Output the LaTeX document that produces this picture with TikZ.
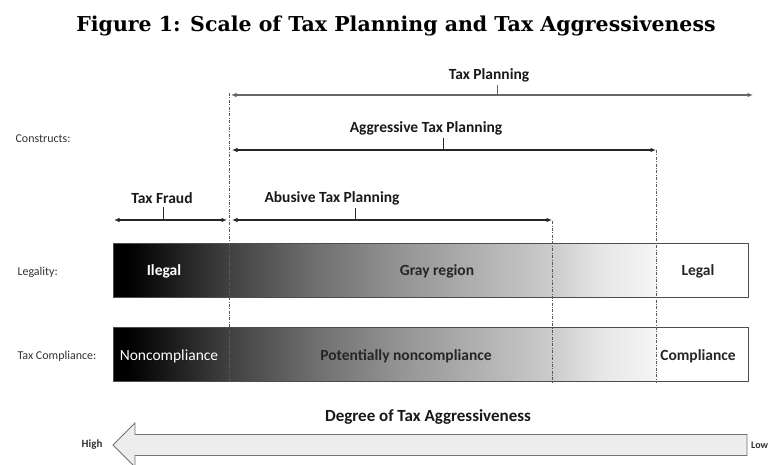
\documentclass[tikz,border=0pt]{standalone}
\usepackage{fontspec}
\setmainfont{Carlito}
\newfontfamily\titlefont{DejaVu Serif}
\usetikzlibrary{arrows.meta,calc}

% black on the left, fading out to white at the legal end
\pgfdeclarehorizontalshading{grayscale}{100bp}{color(0bp)=(black); color(26.2bp)=(black);
  color(34bp)=(black!75); color(40.7bp)=(black!57); color(47.6bp)=(black!42);
  color(59.6bp)=(black!20); color(63.3bp)=(black!10); color(67.6bp)=(black!4);
  color(68bp)=(white); color(100bp)=(white)}

\tikzset{
  span/.style={{Latex[length=5.5pt,width=4.5pt]}-{Latex[length=5.5pt,width=4.5pt]}, line width=1.1pt, draw=black!85},
  tick/.style={line width=0.9pt, draw=black!85},
  divider/.style={dash pattern=on 3pt off 1.5pt on 0.8pt off 1.5pt, line width=0.6pt, draw=black!65},
  bar/.style={draw=black!70, line width=0.8pt, minimum width=635pt, minimum height=54pt, inner sep=0pt, shading=grayscale},
  rowlabel/.style={font=\fontsize{12}{14}\selectfont, text=black!80},
  barlabel/.style={font=\fontsize{15.5}{18}\selectfont\bfseries, text=black!85},
  spanlabel/.style={font=\fontsize{15.5}{18}\selectfont\bfseries, text=black!90},
}

\begin{document}
\begin{tikzpicture}[x=1pt,y=-1pt]
\useasboundingbox[fill=white] (0,0) rectangle (770,465);

\node[font=\titlefont\fontsize{20.5}{24}\selectfont\bfseries] (title) at (396,26) {Figure 1: Scale of Tax Planning and Tax Aggressiveness};

% row labels
\node[rowlabel, anchor=west] (constructs) at (12,139) {Constructs:};
\node[rowlabel, anchor=west] (legality) at (14,272) {Legality:};
\node[rowlabel, anchor=west] (taxcomp) at (14,356) {Tax Compliance:};

% the two bars
\node[bar] (legalbar) at (430.5,270) {};
\node[bar] (compbar) at (430.5,354.5) {};

% dividers
\coordinate (d1t) at (229.5,93);
\coordinate (d1b) at (229.5,383);
\coordinate (d2t) at (552,221);
\coordinate (d2b) at (552,383);
\coordinate (d3t) at (656,150);
\coordinate (d3b) at (656,383);
\draw[divider] (d1t) -- (d1b);
\draw[divider] (d2t) -- (d2b);
\draw[divider] (d3t) -- (d3b);

% constructs
\node[spanlabel] (tp) at (489,75) {Tax Planning};
\coordinate (tpL) at (231,95);
\coordinate (tpR) at (753,95);
\coordinate (tpM) at (497,95);
\draw[span, draw=black!60] (tpL) -- (tpR);
\draw[tick, draw=black!60] (tpM) -- (tp.south -| tpM);

\node[spanlabel] (atp) at (426,128) {Aggressive Tax Planning};
\coordinate (atpL) at (232,150);
\coordinate (atpR) at (656,150);
\coordinate (atpM) at (443,150);
\draw[span] (atpL) -- (atpR);
\draw[tick] (atpM) -- (atp.south -| atpM);

\node[spanlabel] (tf) at (162,198) {Tax Fraud};
\coordinate (tfL) at (114,220);
\coordinate (tfR) at (227,220);
\coordinate (tfM) at (163,220);
\draw[span] (tfL) -- (tfR);
\draw[tick] (tfM) -- (tf.south -| tfM);

\node[spanlabel] (abtp) at (332,198) {Abusive Tax Planning};
\coordinate (abtpL) at (232,220);
\coordinate (abtpR) at (552,220);
\coordinate (abtpM) at (355,220);
\draw[span] (abtpL) -- (abtpR);
\draw[tick] (abtpM) -- (abtp.south -| abtpM);

% bar texts
\node[barlabel, text=white] (ilegal) at (164,271) {Ilegal};
\node[barlabel] (gray) at (437,271) {Gray region};
\node[barlabel] (legal) at (698,271) {Legal};
\node[barlabel, text=white, font=\fontsize{15.5}{18}\selectfont] (noncomp) at (169,356) {Noncompliance};
\node[barlabel] (potnon) at (406,356) {Potentially noncompliance};
\node[barlabel] (comp) at (698,356) {Compliance};

% degree arrow
\node[font=\fontsize{17}{20}\selectfont\bfseries, text=black!90] (degree) at (428,417) {Degree of Tax Aggressiveness};
\coordinate (tip) at (113,445);
\coordinate (tail) at (747,445);
\draw[fill=black!7, draw=black!55, line width=0.8pt]
  ($(tail)+(0,-10.5)$) -- (135,434.5) -- (135,423) -- (tip) -- (135,467) -- (135,455.5) -- ($(tail)+(0,10.5)$) -- cycle;
\node[rowlabel, font=\fontsize{11}{13}\selectfont\bfseries, anchor=east] (high) at (106,445) {High};
\node[rowlabel, font=\fontsize{10}{12}\selectfont\bfseries, anchor=west, inner sep=1pt] (low) at (750,445) {Low};
\end{tikzpicture}
\end{document}
